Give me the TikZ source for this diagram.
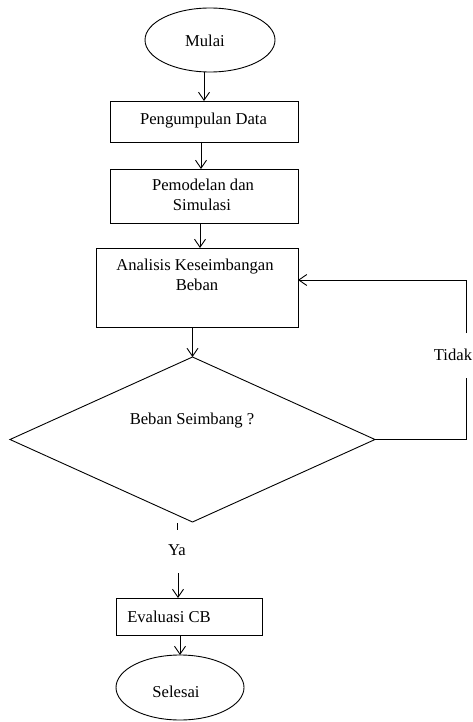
\documentclass[tikz,border=0pt]{standalone}
\usepackage{fontspec}
\setmainfont{Liberation Serif}
\usetikzlibrary{arrows.meta,shapes.geometric,calc}
\begin{document}
\begin{tikzpicture}[x=1pt,y=-1pt,
  line width=0.9pt,
  shapebox/.style={draw, rectangle, inner sep=0pt, outer sep=0pt},
  oval/.style={draw, ellipse, inner sep=0pt, outer sep=0pt},
  decision/.style={draw, diamond, inner sep=0pt, outer sep=0pt, shape aspect=2.2},
  txt/.style={anchor=base, inner sep=0pt, font=\fontsize{16.6}{20}\selectfont},
  arr/.style={-{Straight Barb[length=8pt,width=11pt,line width=0.9pt]}}]
\useasboundingbox (0,0) rectangle (473,722);
\fill[white] (0,0) rectangle (473,722);
% shapes
\node[oval, minimum width=130, minimum height=64] (mulai) at (210,40) {};
\node[shapebox, minimum width=188, minimum height=41] (peng) at (204,121.5) {};
\node[shapebox, minimum width=188, minimum height=54] (pemo) at (204,196) {};
\node[shapebox, minimum width=202, minimum height=79] (anal) at (197,287.5) {};
\node[decision, minimum width=365, minimum height=165] (dec) at (192.5,439.5) {};
\node[shapebox, minimum width=146, minimum height=37] (eval) at (189,616.5) {};
\node[oval, minimum width=128, minimum height=65] (sel) at (180,687.5) {};
% texts
\node[txt] (tmulai) at (205,47) {Mulai};
\node[txt] (tpeng) at (203.5,124.5) {Pengumpulan Data};
\node[txt] (tpemo1) at (203,190) {Pemodelan dan};
\node[txt] (tpemo2) at (202,210) {Simulasi};
\node[txt] (tanal1) at (195,270) {Analisis Keseimbangan};
\node[txt] (tanal2) at (197,290) {Beban};
\node[txt] (tdec) at (192,424) {Beban Seimbang ?};
\node[txt, anchor=base east] (tidak) at (472.5,360) {Tidak};
\node[txt] (ya) at (177,555) {Ya};
\node[txt] (teval) at (169,622) {Evaluasi CB};
\node[txt] (tsel) at (176,697) {Selesai};
% coordinates
\coordinate (rb) at (466,378);
\coordinate (rt) at (466,333);
\coordinate (y1) at (177,523);
\coordinate (y2) at (177,530);
\coordinate (y3) at (178,573);
\coordinate (p1) at (201,142);
\coordinate (p2) at (201,169);
\coordinate (p3) at (200,223);
\coordinate (p4) at (200,248);
\coordinate (fb) at (298,280);
% connectors
\draw[arr] (peng.north |- mulai.south) -- (peng.north);
\draw[arr] (p1) -- (p2);
\draw[arr] (p3) -- (p4);
\draw[arr] (dec.north |- anal.south) -- (dec.north);
\draw (dec.east) -| (rb);
\draw[arr] (rt) |- (fb);
\draw (y1) -- (y2);
\draw[arr] (y3) -- (y3 |- eval.north);
\draw[arr] (sel.north |- eval.south) -- (sel.north);
\end{tikzpicture}
\end{document}
